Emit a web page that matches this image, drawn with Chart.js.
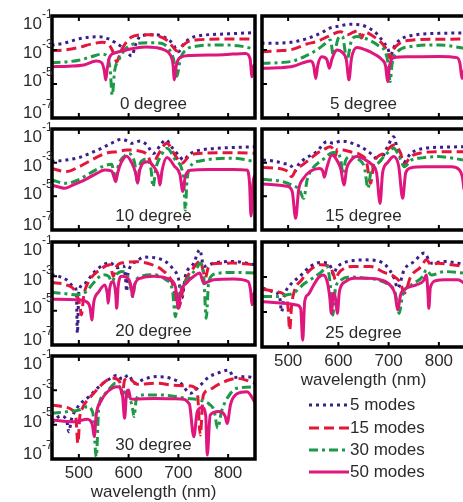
<!DOCTYPE html>
<html>
<head>
<meta charset="utf-8">
<script src="https://cdn.jsdelivr.net/npm/chart.js@4.4.0/dist/chart.umd.min.js"></script>
<style>
  html, body { margin: 0; padding: 0; background: #fff; overflow: hidden; width: 463px; height: 502px; }
  canvas { position: absolute; }
  #legend { position: absolute; left: 309px; top: 394px; font: 17px "Liberation Sans", Arial, sans-serif; color: #2b2b2b; }
  #legend .row { height: 22.4px; display: flex; align-items: center; }
  #legend svg { margin-right: 1px; }
</style>
</head>
<body>
<canvas id="c0" width="258" height="122" style="left:0;top:6px"></canvas>
<canvas id="c5" width="210" height="122" style="left:258px;top:6px"></canvas>
<canvas id="c10" width="258" height="121" style="left:0;top:119px"></canvas>
<canvas id="c15" width="210" height="121" style="left:258px;top:119px"></canvas>
<canvas id="c20" width="258" height="123" style="left:0;top:232px"></canvas>
<canvas id="c25" width="210" height="170" style="left:258px;top:232px"></canvas>
<canvas id="c30" width="258" height="166" style="left:0;top:346px"></canvas>
<div id="legend"></div>
<script>
// Series names and tick values
const seriesNames = ['5 modes', '15 modes', '30 modes', '50 modes'];
const xTicks = [500, 600, 700, 800];
const yTicks = [1e-1, 1e-3, 1e-5, 1e-7];
const yTickExp = ['-1', '-3', '-5', '-7'];

// Each point: [wavelength (nm), log10 of value]
const deg0_5 = [[445,-2.71],[470,-2.6],[499,-2.35],[520,-2.25],[540,-2.22],[560,-2.35],[575,-2.6],[592,-2.95],[606,-3.35],[615,-2.6],[625,-2.15],[655,-2.1],[675,-2.3],[688,-2.6],[700,-3.1],[712,-2.6],[725,-2.3],[745,-2.15],[800,-2.05],[854,-1.98]];
const deg0_15 = [[445,-3.04],[470,-3.0],[500,-2.85],[525,-2.65],[548,-2.55],[562,-2.75],[570,-3.2],[576,-3.7],[584,-3.1],[595,-2.55],[605,-2.25],[620,-2.12],[640,-2.1],[660,-2.18],[678,-2.45],[690,-2.85],[697,-3.05],[708,-2.75],[720,-2.5],[740,-2.4],[800,-2.35],[854,-2.35]];
const deg0_30 = [[445,-3.75],[475,-3.7],[500,-3.6],[525,-3.4],[545,-3.25],[557,-3.35],[563,-4.2],[567,-5.65],[572,-4.2],[580,-3.6],[592,-3.0],[605,-2.7],[620,-2.6],[640,-2.57],[665,-2.6],[680,-2.9],[690,-3.5],[697,-4.55],[704,-3.5],[715,-3.0],[735,-2.78],[780,-2.7],[820,-2.75],[854,-2.95]];
const deg0_50 = [[445,-3.98],[480,-3.95],[510,-3.88],[535,-3.65],[546,-3.75],[551,-4.2],[554,-4.76],[557,-4.1],[562,-3.4],[575,-3.15],[595,-3.0],[615,-2.88],[635,-2.82],[655,-2.86],[672,-3.0],[684,-3.3],[689,-3.8],[692,-4.76],[696,-3.9],[703,-3.45],[725,-3.32],[790,-3.28],[835,-3.2],[844,-3.5],[848,-4.57],[852,-3.9],[854,-3.85]];

const deg5_5 = [[447,-2.61],[480,-2.6],[505,-2.55],[523,-2.45],[545,-2.25],[564,-2.02],[584,-1.7],[600,-1.6],[624,-1.49],[644,-1.52],[660,-1.7],[675,-2.0],[690,-2.55],[698,-2.9],[704,-3.29],[712,-2.75],[725,-2.35],[751,-2.12],[800,-2.02],[851,-2.0]];
const deg5_15 = [[447,-3.1],[480,-3.05],[510,-2.95],[537,-2.65],[557,-2.5],[580,-2.2],[604,-1.92],[618,-2.1],[630,-1.95],[640,-1.85],[646,-2.3],[652,-1.95],[670,-2.2],[688,-2.65],[698,-3.1],[703,-3.49],[710,-2.95],[722,-2.6],[745,-2.42],[800,-2.37],[851,-2.35]];
const deg5_30 = [[447,-3.78],[480,-3.75],[510,-3.65],[535,-3.35],[557,-3.0],[575,-2.6],[584,-2.41],[590,-3.3],[600,-2.3],[608,-2.2],[617,-3.6],[626,-2.45],[637,-2.2],[660,-2.4],[680,-2.75],[693,-3.1],[699,-3.8],[703,-4.86],[707,-3.8],[718,-3.1],[744,-2.8],[800,-2.7],[851,-2.9]];
const deg5_50 = [[447,-4.08],[480,-4.05],[510,-3.96],[530,-3.75],[545,-3.65],[551,-3.95],[555,-4.67],[559,-3.9],[567,-3.4],[577,-3.55],[582,-4.08],[587,-3.55],[597,-3.0],[608,-3.15],[616,-3.6],[621,-4.76],[626,-3.5],[637,-2.85],[655,-3.0],[672,-3.25],[686,-3.55],[694,-3.95],[698,-4.86],[702,-3.9],[710,-3.45],[738,-3.4],[800,-3.38],[836,-3.45],[842,-3.8],[846,-4.67],[851,-4.1]];

const deg10_5 = [[445,-2.94],[475,-2.84],[500,-2.7],[522,-2.45],[545,-2.15],[565,-1.85],[586,-1.61],[600,-1.75],[606,-1.85],[623,-1.72],[637,-1.95],[650,-2.45],[663,-2.0],[674,-1.65],[690,-2.2],[702,-2.6],[710,-2.84],[722,-2.5],[737,-2.3],[778,-2.15],[855,-2.05]];
const deg10_15 = [[445,-3.34],[475,-3.53],[500,-3.25],[522,-2.9],[545,-2.55],[560,-2.4],[576,-2.35],[596,-2.25],[620,-2.3],[638,-2.55],[648,-3.15],[658,-2.6],[677,-1.85],[692,-2.5],[707,-3.04],[722,-2.6],[740,-2.45],[811,-2.41],[855,-2.45]];
const deg10_30 = [[445,-4.03],[475,-4.23],[500,-4.0],[522,-3.63],[550,-3.2],[566,-3.1],[573,-4.03],[580,-3.1],[592,-2.6],[600,-2.45],[612,-3.0],[618,-4.13],[624,-3.0],[637,-2.8],[645,-3.4],[649,-4.43],[655,-3.3],[665,-2.6],[677,-2.15],[695,-2.9],[707,-3.4],[711,-4.2],[714,-5.81],[717,-4.2],[722,-3.34],[744,-2.9],[811,-2.74],[855,-2.94]];
const deg10_50 = [[445,-4.33],[460,-4.45],[472,-4.52],[490,-4.3],[510,-4.05],[536,-3.63],[552,-3.44],[566,-3.5],[571,-3.9],[574,-4.13],[578,-3.6],[585,-3.0],[596,-2.62],[606,-3.0],[614,-3.6],[618,-4.23],[622,-3.5],[630,-3.0],[640,-2.94],[652,-3.3],[660,-3.8],[663,-4.33],[667,-3.5],[677,-2.7],[692,-3.2],[703,-3.7],[709,-4.72],[714,-3.8],[725,-3.45],[760,-3.4],[811,-3.4],[838,-3.44],[843,-4.2],[846,-6.17],[850,-4.2],[855,-3.7]];

const deg15_5 = [[450,-2.84],[470,-2.9],[490,-3.04],[507,-3.23],[513,-3.53],[520,-3.15],[530,-2.84],[557,-2.35],[577,-1.75],[590,-1.85],[605,-1.72],[617,-1.75],[632,-1.9],[644,-2.05],[660,-2.35],[671,-2.64],[681,-2.94],[698,-2.05],[710,-1.46],[718,-2.25],[731,-2.94],[744,-2.45],[771,-2.15],[810,-2.08],[850,-2.05]];
const deg15_15 = [[450,-3.28],[490,-3.4],[500,-3.55],[507,-3.83],[515,-3.45],[530,-3.1],[545,-2.75],[557,-2.45],[572,-2.2],[584,-2.05],[591,-2.3],[594,-2.6],[598,-2.2],[610,-2.25],[624,-2.35],[645,-2.55],[656,-2.95],[664,-4.23],[671,-3.0],[690,-2.45],[711,-1.95],[724,-2.45],[730,-3.14],[744,-2.64],[765,-2.42],[800,-2.35],[850,-2.35]];
const deg15_30 = [[450,-3.99],[490,-4.13],[507,-4.33],[522,-4.6],[531,-5.12],[538,-4.0],[550,-3.3],[570,-2.8],[590,-2.4],[600,-2.45],[605,-2.9],[609,-3.63],[614,-2.9],[624,-2.64],[640,-2.8],[652,-3.3],[659,-4.52],[665,-3.5],[680,-3.0],[695,-2.5],[710,-2.15],[722,-2.7],[731,-3.24],[745,-2.85],[770,-2.7],[798,-2.64],[850,-2.84]];
const deg15_50 = [[450,-4.27],[497,-4.4],[508,-4.7],[515,-6.3],[521,-4.6],[530,-3.95],[545,-3.5],[562,-3.35],[569,-3.5],[572,-3.87],[577,-3.3],[587,-2.54],[597,-2.85],[605,-3.4],[611,-4.33],[617,-3.3],[624,-2.9],[637,-2.64],[652,-2.8],[666,-3.1],[676,-3.6],[683,-5.42],[688,-3.6],[698,-3.0],[710,-2.64],[720,-3.2],[728,-5.12],[734,-3.6],[745,-3.3],[771,-3.24],[825,-3.24],[840,-3.4],[847,-3.9],[850,-4.6]];

const deg20_5 = [[445,-2.91],[460,-3.0],[475,-3.2],[490,-3.6],[495,-3.88],[497,-6.32],[500,-3.88],[512,-3.4],[529,-2.81],[549,-2.33],[563,-2.2],[576,-2.5],[590,-2.4],[594,-3.2],[596,-3.88],[599,-2.8],[616,-2.13],[630,-1.88],[657,-1.94],[675,-2.15],[690,-2.6],[700,-3.1],[707,-4.27],[714,-3.0],[731,-2.23],[743,-1.45],[751,-2.42],[771,-2.23],[811,-2.13],[855,-2.33]];
const deg20_15 = [[445,-3.36],[475,-3.5],[495,-3.98],[502,-4.7],[505,-5.25],[510,-4.1],[518,-3.4],[542,-2.62],[563,-2.33],[569,-3.0],[576,-2.4],[590,-2.2],[616,-2.15],[645,-2.3],[668,-2.65],[688,-3.4],[700,-4.86],[712,-3.4],[728,-2.6],[744,-2.13],[750,-2.7],[754,-3.1],[760,-2.5],[775,-2.25],[811,-2.23],[855,-2.33]];
const deg20_30 = [[445,-3.94],[470,-4.0],[495,-4.08],[515,-3.88],[529,-3.4],[549,-2.91],[560,-3.0],[566,-3.3],[575,-2.9],[586,-2.72],[598,-3.0],[604,-3.6],[608,-4.18],[613,-3.4],[625,-3.0],[650,-2.91],[675,-3.2],[688,-3.8],[694,-5.35],[700,-4.0],[712,-3.4],[737,-2.52],[744,-2.23],[751,-3.0],[756,-5.44],[761,-3.3],[775,-2.85],[811,-2.77],[855,-2.81]];
const deg20_50 = [[445,-4.33],[480,-4.35],[502,-4.37],[519,-4.57],[523,-4.9],[526,-5.54],[530,-4.5],[540,-3.9],[552,-3.5],[557,-4.0],[559,-4.57],[562,-3.7],[569,-3.3],[574,-4.0],[576,-4.86],[579,-3.6],[586,-2.99],[600,-3.16],[605,-3.6],[608,-4.18],[612,-3.5],[625,-3.1],[650,-3.0],[680,-3.15],[694,-3.6],[700,-4.86],[705,-3.9],[716,-3.4],[731,-3.0],[743,-2.81],[751,-3.4],[771,-3.2],[811,-3.16],[840,-3.3],[845,-3.8],[848,-4.66],[852,-4.0],[855,-3.9]];

const deg25_5 = [[450,-3.64],[470,-3.84],[483,-4.12],[487,-4.98],[492,-4.1],[503,-3.5],[523,-2.97],[544,-2.4],[564,-2.17],[578,-2.2],[586,-2.5],[590,-2.88],[596,-2.5],[610,-2.2],[630,-2.06],[651,-2.02],[675,-2.06],[695,-2.35],[711,-3.07],[718,-3.64],[731,-2.59],[751,-2.11],[771,-1.63],[785,-2.21],[811,-2.11],[838,-2.21],[851,-2.3]];
const deg25_15 = [[450,-3.7],[477,-3.84],[493,-4.03],[500,-4.8],[503,-6.04],[507,-4.6],[512,-3.84],[527,-3.16],[544,-2.59],[564,-2.3],[580,-2.36],[590,-2.8],[594,-3.16],[600,-2.8],[612,-2.5],[631,-2.4],[664,-2.4],[691,-2.74],[711,-2.97],[724,-3.36],[731,-3.93],[744,-2.97],[765,-2.4],[775,-2.02],[785,-2.3],[798,-2.21],[825,-2.3],[851,-2.4]];
const deg25_30 = [[450,-4.12],[477,-4.12],[493,-4.03],[510,-3.93],[533,-3.36],[554,-2.97],[567,-2.69],[577,-2.4],[583,-3.2],[589,-5.18],[594,-3.7],[604,-3.2],[625,-3.0],[650,-3.05],[677,-3.16],[700,-3.45],[713,-3.9],[721,-5.08],[728,-4.0],[745,-3.45],[768,-2.97],[775,-2.59],[785,-2.88],[811,-2.69],[851,-2.78]];
const deg25_50 = [[450,-4.41],[477,-4.47],[497,-4.51],[517,-4.6],[525,-4.8],[529,-6.61],[533,-4.4],[540,-4.0],[550,-3.5],[560,-3.05],[570,-2.88],[578,-3.3],[583,-4.2],[586,-5.08],[590,-3.93],[594,-4.2],[598,-5.08],[602,-3.84],[614,-3.26],[631,-3.07],[657,-3.07],[684,-3.16],[704,-3.5],[713,-4.0],[718,-4.89],[724,-4.0],[735,-3.65],[755,-3.45],[770,-3.2],[775,-2.88],[778,-3.8],[780,-4.79],[783,-3.6],[795,-3.2],[811,-3.16],[838,-3.16],[851,-3.36]];

const deg30_5 = [[446,-4.9],[463,-4.5],[475,-4.7],[480,-5.41],[485,-4.7],[497,-4.0],[523,-3.3],[544,-2.69],[564,-2.3],[577,-2.11],[587,-2.35],[600,-2.11],[611,-2.6],[631,-2.35],[657,-2.2],[684,-2.3],[705,-2.6],[724,-3.17],[744,-2.7],[760,-2.25],[778,-2.01],[801,-1.82],[812,-2.25],[835,-2.2],[855,-2.3]];
const deg30_15 = [[446,-3.85],[467,-3.95],[487,-4.15],[494,-4.6],[498,-6.09],[502,-4.5],[507,-4.05],[530,-3.17],[557,-2.4],[570,-2.3],[582,-2.5],[587,-3.3],[592,-2.4],[600,-2.3],[617,-2.65],[657,-2.59],[691,-2.7],[725,-2.75],[738,-3.1],[744,-5.6],[750,-3.3],[760,-3.0],[778,-2.7],[801,-2.4],[818,-2.3],[855,-2.59]];
const deg30_30 = [[446,-4.34],[477,-4.24],[500,-4.15],[517,-3.95],[528,-4.3],[535,-6.86],[540,-4.0],[550,-3.3],[560,-2.95],[574,-2.59],[587,-2.98],[600,-3.4],[607,-3.9],[611,-4.53],[615,-3.6],[624,-3.27],[664,-3.27],[718,-3.47],[741,-3.56],[762,-3.8],[772,-4.2],[779,-5.21],[787,-4.2],[805,-3.17],[818,-2.88],[855,-2.79]];
const deg30_50 = [[446,-4.73],[490,-4.83],[517,-4.69],[527,-5.0],[531,-5.7],[535,-4.4],[545,-3.6],[557,-3.1],[577,-2.79],[587,-3.1],[592,-4.63],[596,-3.1],[600,-2.98],[604,-3.5],[611,-3.52],[651,-3.47],[704,-3.5],[722,-3.8],[731,-5.7],[738,-4.24],[748,-4.0],[755,-4.5],[758,-6.77],[764,-4.44],[781,-4.24],[794,-4.5],[798,-4.93],[805,-3.8],[818,-3.2],[838,-3.08],[855,-3.76]];

// Line styles per series
const colors = ['#3b1d8c', '#e5163c', '#1c9a47', '#e0167f'];
const dashes = [[3, 4], [10, 5], [9, 4, 3, 4], []];
const FONT = '"Liberation Sans", Arial, Helvetica, sans-serif';

// Draws box, inward ticks, tick labels and panel title
const panelDeco = {
    id: 'panelDeco',
    afterDatasetsDraw(chart, args, o) {
        const ctx = chart.ctx;
        const a = chart.chartArea;
        const x = chart.scales.x, y = chart.scales.y;
        ctx.save();
        ctx.strokeStyle = '#000';
        ctx.lineWidth = 2;
        ctx.beginPath();
        xTicks.forEach(v => {
            const px = x.getPixelForValue(v);
            ctx.moveTo(px, a.top); ctx.lineTo(px, a.top + 5);
            ctx.moveTo(px, a.bottom); ctx.lineTo(px, a.bottom - 5);
        });
        yTicks.forEach(v => {
            const py = y.getPixelForValue(v);
            ctx.moveTo(a.left, py); ctx.lineTo(a.left + 5, py);
        });
        ctx.stroke();
        ctx.lineWidth = 3.5;
        ctx.strokeRect(a.left, a.top, a.right - a.left, a.bottom - a.top);

        ctx.fillStyle = '#2b2b2b';
        ctx.textBaseline = 'middle';
        ctx.font = '17px ' + FONT;
        ctx.textAlign = 'center';
        ctx.fillText(o.title, (a.left + a.right) / 2, a.bottom - 14);

        if (o.yLabels) {
            const shift = [8, 3.5, -2.5, -4.5];
            yTicks.forEach((v, i) => {
                const py = y.getPixelForValue(v) + shift[i];
                ctx.font = '17px ' + FONT;
                ctx.textAlign = 'right';
                ctx.fillText('10', 42, py);
                ctx.font = '12px ' + FONT;
                ctx.textAlign = 'left';
                ctx.fillText(yTickExp[i], 42, py - 9);
            });
        }
        if (o.xLabels) {
            ctx.font = '17px ' + FONT;
            ctx.textAlign = 'center';
            xTicks.forEach(v => {
                ctx.fillText(String(v), x.getPixelForValue(v), a.bottom + 14);
            });
            ctx.fillText('wavelength (nm)', (a.left + a.right) / 2, a.bottom + 33);
        }
        ctx.restore();
    }
};

function makePanel(id, title, sets, left, opt) {
    const padBottom = opt.xLabels ? opt.padBottom : 10;
    new Chart(document.getElementById(id), {
        type: 'line',
        data: {
            datasets: sets.map((pts, i) => ({
                label: seriesNames[i],
                data: pts.map(p => ({ x: p[0], y: Math.pow(10, p[1]) })),
                borderColor: colors[i],
                borderWidth: 3,
                borderDash: dashes[i],
                pointRadius: 0,
                fill: false,
                cubicInterpolationMode: 'monotone',
                order: 4 - i
            }))
        },
        options: {
            responsive: false,
            animation: false,
            events: [],
            layout: { padding: { left: left ? 52 : 4, right: 3, top: 10, bottom: padBottom } },
            plugins: {
                legend: { display: false },
                tooltip: { enabled: false },
                panelDeco: { title: title, yLabels: left, xLabels: !!opt.xLabels }
            },
            scales: {
                x: { type: 'linear', min: left ? 446 : 448, max: left ? 854 : 852, display: false },
                y: { type: 'logarithmic', min: 1e-7, max: 1e-1, display: false }
            }
        },
        plugins: [panelDeco]
    });
}

makePanel('c0', '0 degree', [deg0_5, deg0_15, deg0_30, deg0_50], true, {});
makePanel('c5', '5 degree', [deg5_5, deg5_15, deg5_30, deg5_50], false, {});
makePanel('c10', '10 degree', [deg10_5, deg10_15, deg10_30, deg10_50], true, {});
makePanel('c15', '15 degree', [deg15_5, deg15_15, deg15_30, deg15_50], false, {});
makePanel('c20', '20 degree', [deg20_5, deg20_15, deg20_30, deg20_50], true, {});
makePanel('c25', '25 degree', [deg25_5, deg25_15, deg25_30, deg25_50], false, { xLabels: true, padBottom: 55 });
makePanel('c30', '30 degree', [deg30_5, deg30_15, deg30_30, deg30_50], true, { xLabels: true, padBottom: 53 });

// Legend with line samples
const legend = document.getElementById('legend');
seriesNames.forEach((name, i) => {
    const row = document.createElement('div');
    row.className = 'row';
    row.innerHTML = '<svg width="40" height="10"><line x1="0" y1="5" x2="40" y2="5" stroke="' + colors[i] +
        '" stroke-width="3" stroke-dasharray="' + (dashes[i].join(' ') || 'none') + '"/></svg><span>' + name + '</span>';
    legend.appendChild(row);
});
</script>
</body>
</html>
